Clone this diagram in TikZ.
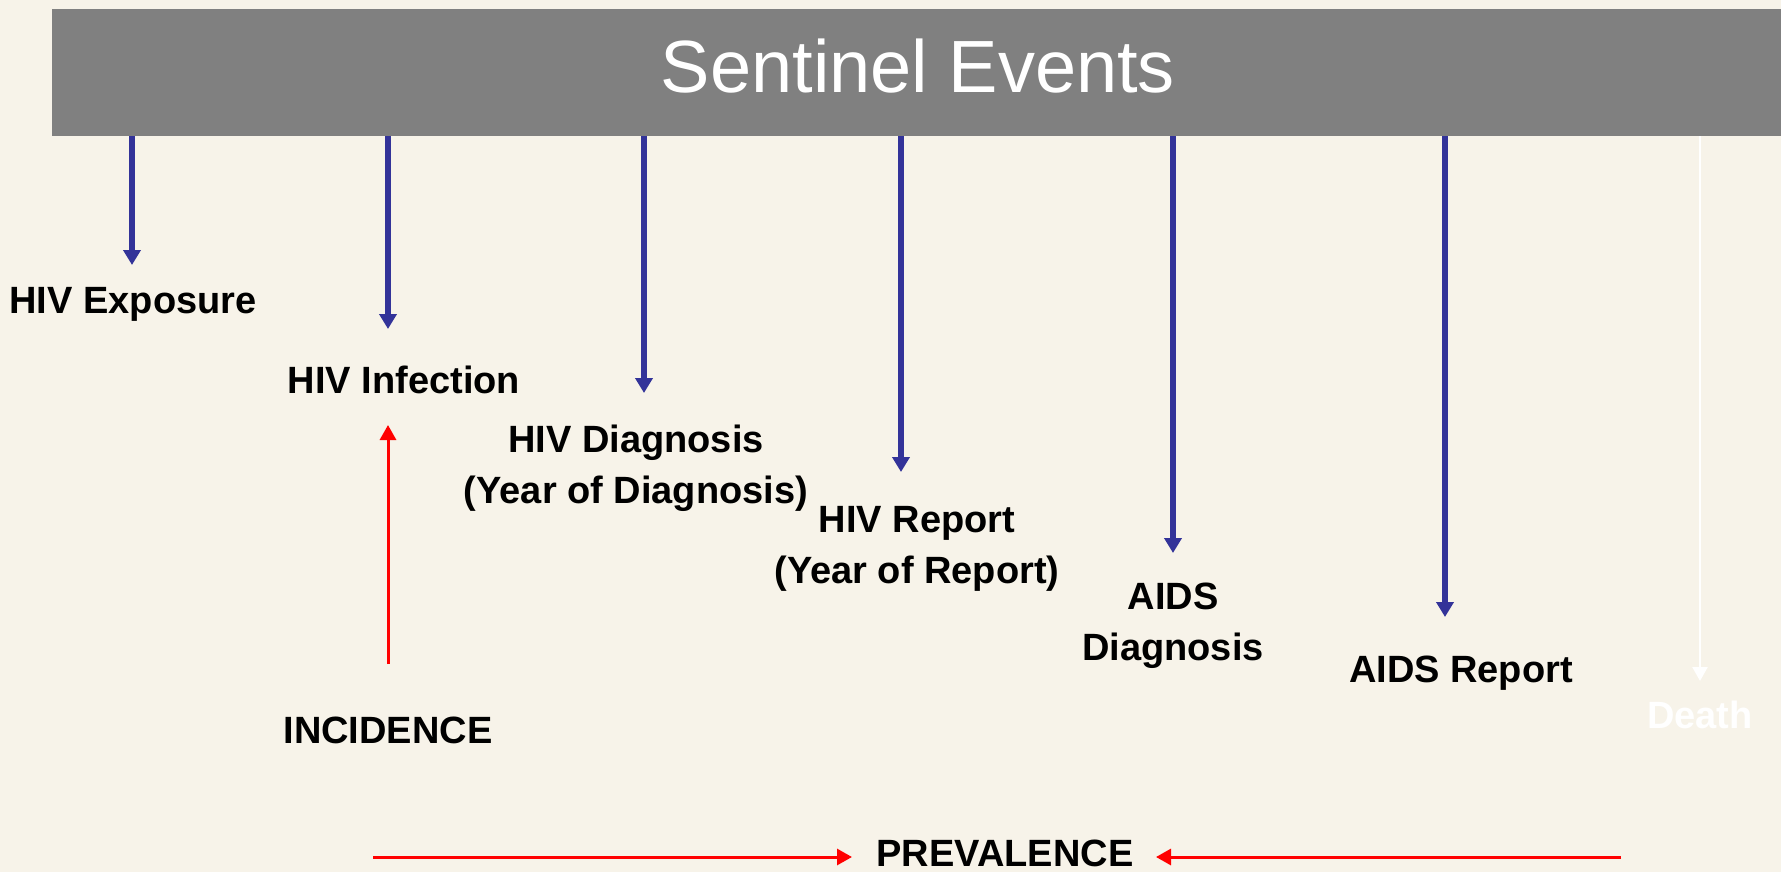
\documentclass[tikz,border=0pt]{standalone}
\usepackage{fontspec}
\setmainfont{Liberation Sans}
\usetikzlibrary{arrows.meta}
\definecolor{bgc}{HTML}{F7F3E9}
\definecolor{barc}{HTML}{808080}
\definecolor{bluec}{HTML}{333399}
\begin{document}
\begin{tikzpicture}[x=1pt,y=-1pt,
  lbl/.style={font=\fontsize{38}{51}\selectfont\bfseries, text=black, inner sep=0pt, align=center},
  bluearr/.style={draw=bluec, line width=5.5pt, -{Triangle[width=17pt,length=15pt]}},
  whitearr/.style={draw=white, line width=2.5pt, -{Triangle[width=15pt,length=14pt]}},
  redarr/.style={draw=red, line width=3pt, -{Triangle[width=16pt,length=15pt]}}]
\fill[bgc] (0,0) rectangle (1781,872);
\useasboundingbox (0,0) rectangle (1781,872);
\node[fill=barc, minimum width=1729pt, minimum height=127pt, inner sep=0pt, anchor=north west] (bar) at (52,9) {};
\node[font=\fontsize{74}{80}\selectfont, text=white, inner sep=0pt] (title) at (918,66) {Sentinel Events};
% arrow tips
\coordinate (t1) at (132,265);
\coordinate (t2) at (388,329);
\coordinate (t3) at (644,393);
\coordinate (t4) at (901,472);
\coordinate (t5) at (1173,553);
\coordinate (t6) at (1445,617);
\coordinate (t7) at (1700,681);
\draw[bluearr] (bar.south -| t1) -- (t1);
\draw[bluearr] (bar.south -| t2) -- (t2);
\draw[bluearr] (bar.south -| t3) -- (t3);
\draw[bluearr] (bar.south -| t4) -- (t4);
\draw[bluearr] (bar.south -| t5) -- (t5);
\draw[bluearr] (bar.south -| t6) -- (t6);
\draw[whitearr] (bar.south -| t7) -- (t7);
% labels
\node[lbl] (exp) at (133,304) {HIV Exposure};
\node[lbl] (inf) at (404,380) {HIV Infection};
\node[lbl] (hivdx) at (636,468) {HIV Diagnosis\\(Year of Diagnosis)};
\node[lbl] (hivrep) at (917,549) {HIV Report\\(Year of Report)};
\node[lbl] (aidsdx) at (1173,626) {AIDS\\Diagnosis};
\node[lbl] (aidsrep) at (1461,673) {AIDS Report};
\node[lbl, text=white] (death) at (1700,715) {Death};
\node[lbl] (inc) at (388,730) {INCIDENCE};
\node[lbl, anchor=base] (prev) at (1005,866) {PREVALENCE};
% red arrows
\coordinate (incbot) at (388,664);
\coordinate (inctip) at (388,425);
\draw[redarr] (incbot) -- (inctip);
\coordinate (pl) at (373,857);
\coordinate (plt) at (852,857);
\coordinate (pr) at (1621,857);
\coordinate (prt) at (1156,857);
\draw[redarr] (pl) -- (plt);
\draw[redarr] (pr) -- (prt);
\end{tikzpicture}
\end{document}
